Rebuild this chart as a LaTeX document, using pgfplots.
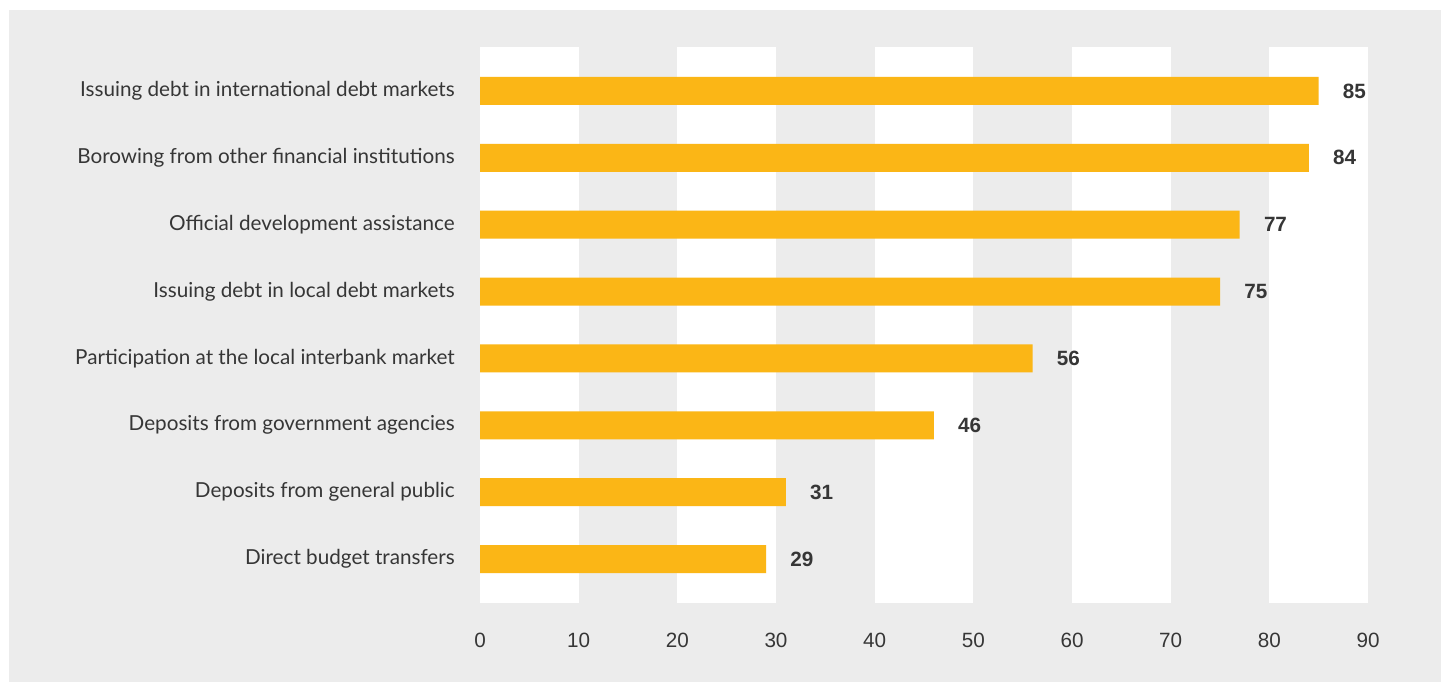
\documentclass[border=0pt]{standalone}
\usepackage{pgfplots}
\pgfplotsset{compat=1.18}
\usepackage{fontspec}
\setmainfont{Liberation Sans}
\newfontfamily\catfont{Lato}
\definecolor{panel}{HTML}{ECECEC}
\definecolor{barc}{HTML}{FBB616}
\definecolor{txt}{HTML}{363636}
\begin{document}
\begin{tikzpicture}
\path[use as bounding box] (0pt,0pt) rectangle (1080.75pt,511.5pt);
\fill[white] (0pt,0pt) rectangle (1080.75pt,511.5pt);
\fill[panel] (6.75pt,0pt) rectangle (1080.75pt,504pt);
\begin{axis}[
  at={(360pt,59.25pt)}, anchor=south west,
  scale only axis, width=666pt, height=417pt,
  xmin=0, xmax=90, ymin=-0.657, ymax=7.657,
  y dir=reverse,
  axis line style={draw=none},
  major tick length=0pt,
  xtick={0,10,...,90},
  ytick={0,...,7},
  yticklabels={Issuing debt in international debt markets,
    Borowing from other financial institutions,
    Official development assistance,
    Issuing debt in local debt markets,
    Participation at the local interbank market,
    Deposits from government agencies,
    Deposits from general public,
    Direct budget transfers},
  yticklabel style={font=\catfont\fontsize{15.5}{18}\selectfont, text=txt, inner sep=0pt, anchor=east, xshift=-18.75pt},
  xticklabel style={font=\fontsize{15.5}{18}\selectfont, text=txt, inner sep=0pt, anchor=center, yshift=-27.75pt},
  /pgf/number format/assume math mode=true,
  xbar, bar width=21pt,
  nodes near coords,
  every node near coord/.append style={font=\bfseries\fontsize{15.5}{18}\selectfont, text=txt, anchor=west, inner sep=0pt, xshift=18pt},
  clip=false,
]
\foreach \a in {0,20,40,60,80} {
  \edef\tmp{\noexpand\fill[white] (axis cs:\a,-0.657) rectangle (axis cs:\a+10,7.657);}
  \tmp
}
\addplot[fill=barc, draw=none] coordinates {
  (85,0) (84,1) (77,2) (75,3) (56,4) (46,5) (31,6) (29,7)
};
\end{axis}
\end{tikzpicture}
\end{document}
